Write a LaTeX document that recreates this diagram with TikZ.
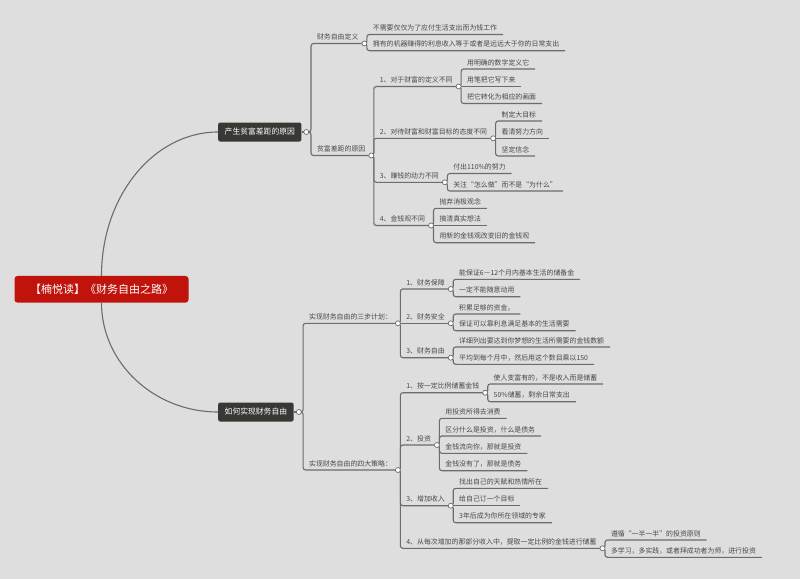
\documentclass[tikz,border=0pt]{standalone}
\usepackage{fontspec}
\newfontfamily\cjk{Noto Sans CJK SC}
\usepackage{tikz}
\usetikzlibrary{calc}
\definecolor{paper}{HTML}{DEDEDE}
\definecolor{rootred}{HTML}{C0130C}
\definecolor{boxdark}{HTML}{383835}
\definecolor{ink}{HTML}{484848}
\definecolor{wire}{HTML}{6C6C6C}

\begin{document}
\begin{tikzpicture}[x=1pt, y=-1pt,
    root/.style={fill=rootred, text=white, rounded corners=3pt, font=\cjk\fontsize{11}{13}\selectfont, minimum height=26.7pt, inner xsep=15.5pt},
    branch/.style={fill=boxdark, text=white, rounded corners=2pt, font=\cjk\fontsize{7.8}{9}\selectfont, minimum height=19pt, inner xsep=6.5pt, anchor=west},
    item/.style={anchor=south west, text=ink, font=\cjk\fontsize{6.9}{8}\selectfont, inner xsep=5.8pt, inner ysep=2.8pt, text height=6pt, text depth=0.8pt},
    link/.style={draw=wire, line width=1.1pt, rounded corners=2.5pt},
    knob/.style={circle, draw=wire, fill=white, line width=0.7pt, inner sep=0pt, minimum size=5pt}]
    \fill[paper] (0,0) rectangle (800,579);
    \useasboundingbox (0,0) rectangle (800,579);

    \node (book) [root] at (101.5,289.3) {【楠悦读】《财务自由之路》};
    \node (gap) [branch] at (218,132) {产生贫富差距的原因};
    \node (howto) [branch] at (218,412) {如何实现财务自由};
    \coordinate (gap_k) at ([xshift=4.7pt]gap.east);
    \coordinate (howto_k) at ([xshift=5pt]howto.east);

    % upper branch
    \node (define) [item] at ($(gap_k |- 0,43.5)+(4.7,0)$) {财务自由定义};
    \node (define_a) [item] at ($(define.south east |- 0,34.5)+(2.5,0)$) {不需要仅仅为了应付生活支出而为钱工作};
    \node (define_b) [item] at ($(define.south east |- 0,50.7)+(2.5,0)$) {拥有的机器赚得的利息收入等于或者是远远大于你的日常支出};
    \node (reasons) [item] at ($(gap_k |- 0,155.5)+(4.7,0)$) {贫富差距的原因};
    \node (r1) [item] at ($(reasons.south east |- 0,86.5)+(2.5,0)$) {1、对于财富的定义不同};
    \node (r1_a) [item] at ($(r1.south east |- 0,69)+(2.5,0)$) {用明确的数字定义它};
    \node (r1_b) [item] at ($(r1.south east |- 0,86.5)+(2.5,0)$) {用笔把它写下来};
    \node (r1_c) [item] at ($(r1.south east |- 0,103.5)+(2.5,0)$) {把它转化为相应的画面};
    \node (r2) [item] at ($(reasons.south east |- 0,138.3)+(2.5,0)$) {2、对待财富和财富目标的态度不同};
    \node (r2_a) [item] at ($(r2.south east |- 0,121)+(2.5,0)$) {制定大目标};
    \node (r2_b) [item] at ($(r2.south east |- 0,138.3)+(2.5,0)$) {看清努力方向};
    \node (r2_c) [item] at ($(r2.south east |- 0,156)+(2.5,0)$) {坚定信念};
    \node (r3) [item] at ($(reasons.south east |- 0,182.3)+(2.5,0)$) {3、赚钱的动力不同};
    \node (r3_a) [item] at ($(r3.south east |- 0,173.5)+(2.5,0)$) {付出110\%的努力};
    \node (r3_b) [item] at ($(r3.south east |- 0,191)+(2.5,0)$) {关注“怎么做”而不是“为什么”};
    \node (r4) [item] at ($(reasons.south east |- 0,225.5)+(2.5,0)$) {4、金钱观不同};
    \node (r4_a) [item] at ($(r4.south east |- 0,208.3)+(2.5,0)$) {抛弃消极观念};
    \node (r4_b) [item] at ($(r4.south east |- 0,225.5)+(2.5,0)$) {搞清真实想法};
    \node (r4_c) [item] at ($(r4.south east |- 0,242.7)+(2.5,0)$) {用新的金钱观改变旧的金钱观};

    % lower branch
    \node (plan) [item] at ($(howto_k |- 0,323.3)+(4.3,0)$) {实现财务自由的三步计划：};
    \node (p1) [item] at ($(plan.south east |- 0,289)+(2.5,0)$) {1、财务保障};
    \node (p1_a) [item] at ($(p1.south east |- 0,279.3)+(2.5,0)$) {能保证6－12个月内基本生活的储备金};
    \node (p1_b) [item] at ($(p1.south east |- 0,296.7)+(2.5,0)$) {一定不能随意动用};
    \node (p2) [item] at ($(plan.south east |- 0,323.3)+(2.5,0)$) {2、财务安全};
    \node (p2_a) [item] at ($(p2.south east |- 0,314)+(2.5,0)$) {积累足够的资金。};
    \node (p2_b) [item] at ($(p2.south east |- 0,330.7)+(2.5,0)$) {保证可以靠利息满足基本的生活需要};
    \node (p3) [item] at ($(plan.south east |- 0,357.7)+(2.5,0)$) {3、财务自由};
    \node (p3_a) [item] at ($(p3.south east |- 0,347)+(2.5,0)$) {详细列出要达到你梦想的生活所需要的金钱数额};
    \node (p3_b) [item] at ($(p3.south east |- 0,364.3)+(2.5,0)$) {平均到每个月中，然后用这个数目乘以150};
    \node (tactics) [item] at ($(howto_k |- 0,470)+(4.3,0)$) {实现财务自由的四大策略：};
    \node (t1) [item] at ($(tactics.south east |- 0,392.7)+(2.5,0)$) {1、按一定比例储蓄金钱};
    \node (t1_a) [item] at ($(t1.south east |- 0,384)+(2.5,0)$) {使人变富有的，不是收入而是储蓄};
    \node (t1_b) [item] at ($(t1.south east |- 0,401.7)+(2.5,0)$) {50\%储蓄，剩余日常支出};
    \node (t2) [item] at ($(tactics.south east |- 0,445)+(2.5,0)$) {2、投资};
    \node (t2_a) [item] at ($(t2.south east |- 0,418.3)+(2.5,0)$) {用投资所得去消费};
    \node (t2_b) [item] at ($(t2.south east |- 0,436)+(2.5,0)$) {区分什么是投资，什么是债务};
    \node (t2_c) [item] at ($(t2.south east |- 0,453.3)+(2.5,0)$) {金钱流向你，那就是投资};
    \node (t2_d) [item] at ($(t2.south east |- 0,470.7)+(2.5,0)$) {金钱没有了，那就是债务};
    \node (t3) [item] at ($(tactics.south east |- 0,505.7)+(2.5,0)$) {3、增加收入};
    \node (t3_a) [item] at ($(t3.south east |- 0,488.3)+(2.5,0)$) {找出自己的天赋和热情所在};
    \node (t3_b) [item] at ($(t3.south east |- 0,505.7)+(2.5,0)$) {给自己订一个目标};
    \node (t3_c) [item] at ($(t3.south east |- 0,522.7)+(2.5,0)$) {3年后成为你所在领域的专家};
    \node (t4) [item] at ($(tactics.south east |- 0,548.3)+(2.5,0)$) {4、从每次增加的那部分收入中，提取一定比例的金钱进行储蓄};
    \node (t4_a) [item] at ($(t4.south east |- 0,540)+(2.5,0)$) {遵循“一半一半”的投资原则};
    \node (t4_b) [item] at ($(t4.south east |- 0,557.3)+(2.5,0)$) {多学习，多实践，或者拜成功者为师，进行投资};

    % connectors
    \draw[link] (book.north) .. controls +(0,-80) and +(-64,0) .. (gap.west);
    \draw[link] (book.south) .. controls +(0,60) and +(-64,0) .. (howto.west);
    \draw[link] (gap.east) -- (gap_k);
    \draw[link] (howto.east) -- (howto_k);

    \draw[link] (gap_k) -| (define.south west) -- (define.south east);
    \draw[link] (gap_k) -| (reasons.south west) -- (reasons.south east);
    \draw[link] (define.south east) -| (define_a.south west) -- (define_a.south east);
    \draw[link] (define.south east) -| (define_b.south west) -- (define_b.south east);
    \draw[link] (reasons.south east) -| (r1.south west) -- (r1.south east);
    \draw[link] (reasons.south east) -| (r2.south west) -- (r2.south east);
    \draw[link] (reasons.south east) -| (r3.south west) -- (r3.south east);
    \draw[link] (reasons.south east) -| (r4.south west) -- (r4.south east);
    \draw[link] (r1.south east) -| (r1_a.south west) -- (r1_a.south east);
    \draw[link] (r1.south east) -- (r1_b.south east);
    \draw[link] (r1.south east) -| (r1_c.south west) -- (r1_c.south east);
    \draw[link] (r2.south east) -| (r2_a.south west) -- (r2_a.south east);
    \draw[link] (r2.south east) -- (r2_b.south east);
    \draw[link] (r2.south east) -| (r2_c.south west) -- (r2_c.south east);
    \draw[link] (r3.south east) -| (r3_a.south west) -- (r3_a.south east);
    \draw[link] (r3.south east) -| (r3_b.south west) -- (r3_b.south east);
    \draw[link] (r4.south east) -| (r4_a.south west) -- (r4_a.south east);
    \draw[link] (r4.south east) -- (r4_b.south east);
    \draw[link] (r4.south east) -| (r4_c.south west) -- (r4_c.south east);

    \draw[link] (howto_k) -| (plan.south west) -- (plan.south east);
    \draw[link] (howto_k) -| (tactics.south west) -- (tactics.south east);
    \draw[link] (plan.south east) -| (p1.south west) -- (p1.south east);
    \draw[link] (plan.south east) -- (p2.south east);
    \draw[link] (plan.south east) -| (p3.south west) -- (p3.south east);
    \draw[link] (p1.south east) -| (p1_a.south west) -- (p1_a.south east);
    \draw[link] (p1.south east) -| (p1_b.south west) -- (p1_b.south east);
    \draw[link] (p2.south east) -| (p2_a.south west) -- (p2_a.south east);
    \draw[link] (p2.south east) -| (p2_b.south west) -- (p2_b.south east);
    \draw[link] (p3.south east) -| (p3_a.south west) -- (p3_a.south east);
    \draw[link] (p3.south east) -| (p3_b.south west) -- (p3_b.south east);
    \draw[link] (tactics.south east) -| (t1.south west) -- (t1.south east);
    \draw[link] (tactics.south east) -| (t2.south west) -- (t2.south east);
    \draw[link] (tactics.south east) -| (t3.south west) -- (t3.south east);
    \draw[link] (tactics.south east) -| (t4.south west) -- (t4.south east);
    \draw[link] (t1.south east) -| (t1_a.south west) -- (t1_a.south east);
    \draw[link] (t1.south east) -| (t1_b.south west) -- (t1_b.south east);
    \draw[link] (t2.south east) -| (t2_a.south west) -- (t2_a.south east);
    \draw[link] (t2.south east) -| (t2_b.south west) -- (t2_b.south east);
    \draw[link] (t2.south east) -| (t2_c.south west) -- (t2_c.south east);
    \draw[link] (t2.south east) -| (t2_d.south west) -- (t2_d.south east);
    \draw[link] (t3.south east) -| (t3_a.south west) -- (t3_a.south east);
    \draw[link] (t3.south east) -- (t3_b.south east);
    \draw[link] (t3.south east) -| (t3_c.south west) -- (t3_c.south east);
    \draw[link] (t4.south east) -| (t4_a.south west) -- (t4_a.south east);
    \draw[link] (t4.south east) -| (t4_b.south west) -- (t4_b.south east);

    % fold knobs
    \node (gap_dot) [knob] at (gap_k) {};
    \node (howto_dot) [knob] at (howto_k) {};
    \node (define_dot) [knob] at (define.south east) {};
    \node (reasons_dot) [knob] at (reasons.south east) {};
    \node (r1_dot) [knob] at (r1.south east) {};
    \node (r2_dot) [knob] at (r2.south east) {};
    \node (r3_dot) [knob] at (r3.south east) {};
    \node (r4_dot) [knob] at (r4.south east) {};
    \node (plan_dot) [knob] at (plan.south east) {};
    \node (p1_dot) [knob] at (p1.south east) {};
    \node (p2_dot) [knob] at (p2.south east) {};
    \node (p3_dot) [knob] at (p3.south east) {};
    \node (tactics_dot) [knob] at (tactics.south east) {};
    \node (t1_dot) [knob] at (t1.south east) {};
    \node (t2_dot) [knob] at (t2.south east) {};
    \node (t3_dot) [knob] at (t3.south east) {};
    \node (t4_dot) [knob] at (t4.south east) {};
\end{tikzpicture}
\end{document}
